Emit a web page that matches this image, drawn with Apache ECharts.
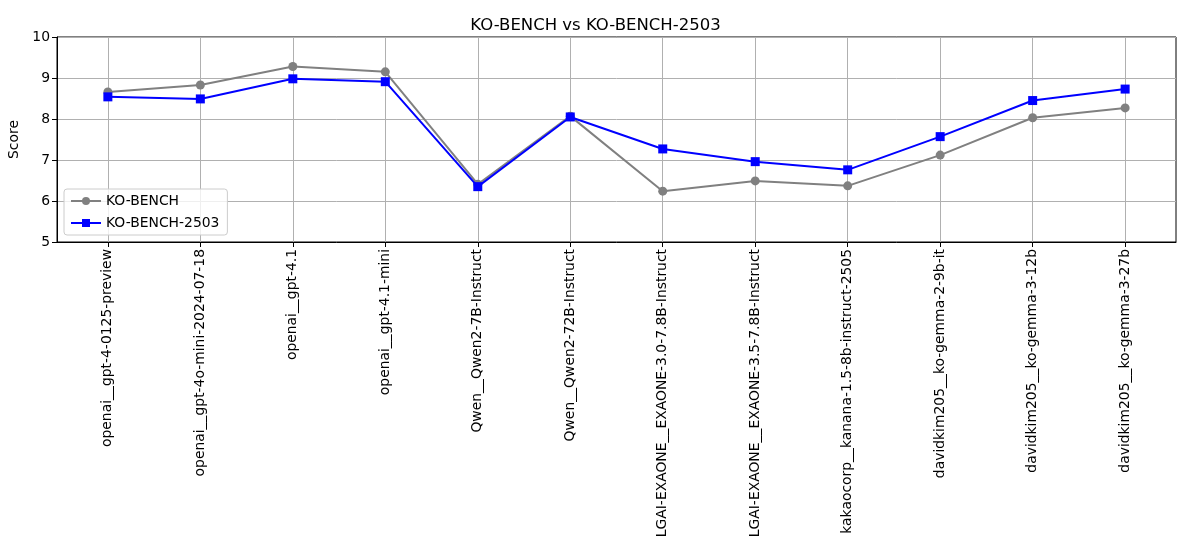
<!DOCTYPE html>
<html>
<head>
<meta charset="utf-8">
<script src="https://cdn.jsdelivr.net/npm/echarts@6/dist/echarts.min.js"></script>
<style>
html,body{margin:0;padding:0;background:#fff;}
#chart{width:1191px;height:544px;}
</style>
</head>
<body>
<div id="chart"></div>
<script>
const categories = [
  "openai__gpt-4-0125-preview",
  "openai__gpt-4o-mini-2024-07-18",
  "openai__gpt-4.1",
  "openai__gpt-4.1-mini",
  "Qwen__Qwen2-7B-Instruct",
  "Qwen__Qwen2-72B-Instruct",
  "LGAI-EXAONE__EXAONE-3.0-7.8B-Instruct",
  "LGAI-EXAONE__EXAONE-3.5-7.8B-Instruct",
  "kakaocorp__kanana-1.5-8b-instruct-2505",
  "davidkim205__ko-gemma-2-9b-it",
  "davidkim205__ko-gemma-3-12b",
  "davidkim205__ko-gemma-3-27b"
];
const koBench = [8.66, 8.83, 9.28, 9.15, 6.41, 8.07, 6.24, 6.49, 6.37, 7.12, 8.03, 8.27];
const koBench2503 = [8.54, 8.49, 8.98, 8.91, 6.35, 8.05, 7.27, 6.96, 6.76, 7.57, 8.45, 8.73];
const yTicks = [5, 6, 7, 8, 9, 10];

const FONT = "DejaVu Sans";
const idx = categories.map((_, i) => i);
const chart = echarts.init(document.getElementById('chart'), null, {renderer: 'canvas'});
chart.setOption({
  animation: false,
  backgroundColor: '#fff',
  textStyle: {fontFamily: FONT},
  title: {
    text: 'KO-BENCH vs KO-BENCH-2503',
    left: 'center',
    top: 12,
    textStyle: {fontFamily: FONT, fontSize: 16.5, fontWeight: 'normal', color: '#000'}
  },
  grid: {
    left: 57, right: 15, top: 37, bottom: 302,
    containLabel: false,
    outerBoundsMode: 'none',
    show: true, borderColor: '#000', borderWidth: 1, backgroundColor: 'transparent'
  },
  legend: {
    orient: 'vertical',
    left: 64, top: 189,
    padding: [5, 8, 5, 6],
    itemGap: 8,
    itemWidth: 30, itemHeight: 10,
    backgroundColor: 'rgba(255,255,255,0.8)',
    borderColor: '#cccccc', borderWidth: 1, borderRadius: 3,
    textStyle: {fontFamily: FONT, fontSize: 13.9, color: '#000'},
    data: ['KO-BENCH', 'KO-BENCH-2503']
  },
  xAxis: {
    type: 'value',
    min: -0.55, max: 11.55,
    axisLine: {show: true, onZero: false, lineStyle: {color: '#000', width: 1}},
    axisTick: {show: true, customValues: idx, length: 5, lineStyle: {color: '#000'}},
    axisLabel: {
      customValues: idx,
      rotate: 90,
      margin: 7,
      fontFamily: FONT, fontSize: 13.9, color: '#000',
      formatter: v => categories[Math.round(v)]
    },
    splitLine: {show: true, lineStyle: {color: '#b0b0b0', width: 1}}
  },
  yAxis: {
    type: 'value',
    min: 5, max: 10, interval: 1,
    name: 'Score',
    nameLocation: 'middle',
    nameGap: 33,
    nameTextStyle: {fontFamily: FONT, fontSize: 13.9, color: '#000'},
    axisLine: {show: true, onZero: false, lineStyle: {color: '#000', width: 1}},
    axisTick: {show: true, length: 5, lineStyle: {color: '#000'}},
    axisLabel: {fontFamily: FONT, fontSize: 13.9, color: '#000', margin: 7,
      formatter: v => yTicks.includes(v) ? String(v) : ''},
    splitLine: {show: true, lineStyle: {color: '#b0b0b0', width: 1}}
  },
  series: [
    {
      name: 'KO-BENCH',
      type: 'line',
      data: koBench.map((v, i) => [i, v]),
      symbol: 'circle', symbolSize: 9,
      lineStyle: {color: '#808080', width: 2},
      itemStyle: {color: '#808080'},
      z: 2
    },
    {
      name: 'KO-BENCH-2503',
      type: 'line',
      data: koBench2503.map((v, i) => [i, v]),
      symbol: 'rect', symbolSize: 9,
      lineStyle: {color: '#0000ff', width: 2},
      itemStyle: {color: '#0000ff'},
      z: 3
    }
  ]
});
</script>
</body>
</html>
